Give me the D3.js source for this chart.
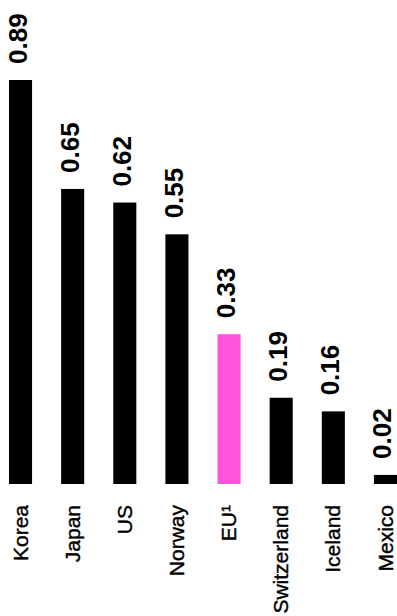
<!DOCTYPE html>
<html lang="en">
<head>
    <meta charset="UTF-8">
    <title>Bar chart</title>
    <script src="https://d3js.org/d3.v7.min.js"></script>
    <style>
        body {
            margin: 0;
            background-color: #fff;
        }
        svg {
            display: block;
        }
        .value {
            font-family: "Liberation Sans", Arial, sans-serif;
            font-weight: bold;
            font-size: 26px;
        }
        .cat {
            font-family: "Liberation Sans", Arial, sans-serif;
            font-size: 21px;
            stroke: #000;
            stroke-width: 0.4px;
        }
    </style>
</head>
<body>
    <svg id="chart"></svg>
    <script>
        // Data
        const countries = ["Korea", "Japan", "US", "Norway", "EU\u00B9", "Switzerland", "Iceland", "Mexico"];
        const values = [0.89, 0.65, 0.62, 0.55, 0.33, 0.19, 0.16, 0.02];
        const highlight = ["EU\u00B9"];

        const width = 397, height = 616;
        const svg = d3.select("#chart")
            .attr("width", width)
            .attr("height", height);

        const x = d3.scaleBand()
            .domain(countries)
            .range([9, 397])
            .paddingInner(29 / 52)
            .paddingOuter(0);

        const y = d3.scaleLinear()
            .domain([0, 0.89])
            .range([484, 80]);

        const data = countries.map((c, i) => ({ name: c, value: values[i] }));

        // Bars
        svg.selectAll("rect")
            .data(data)
            .enter()
            .append("rect")
            .attr("x", d => x(d.name))
            .attr("y", d => y(d.value))
            .attr("width", x.bandwidth())
            .attr("height", d => y(0) - y(d.value))
            .attr("fill", d => highlight.includes(d.name) ? "#ff55dd" : "#000");

        // Value labels, rotated (kept a little left so the last one fits)
        svg.selectAll("text.value")
            .data(data)
            .enter()
            .append("text")
            .attr("class", "value")
            .attr("transform", d => `translate(${x(d.name) + x.bandwidth() / 2},${y(d.value) - 16}) rotate(-90)`)
            .attr("dy", "0.23em")
            .attr("text-anchor", "start")
            .text(d => d3.format(".2f")(d.value));

        // Category labels, rotated
        svg.selectAll("text.cat")
            .data(data)
            .enter()
            .append("text")
            .attr("class", "cat")
            .attr("transform", d => `translate(${x(d.name) + x.bandwidth() / 2},505) rotate(-90)`)
            .attr("dy", "0.34em")
            .attr("text-anchor", "end")
            .text(d => d.name);
    </script>
</body>
</html>
